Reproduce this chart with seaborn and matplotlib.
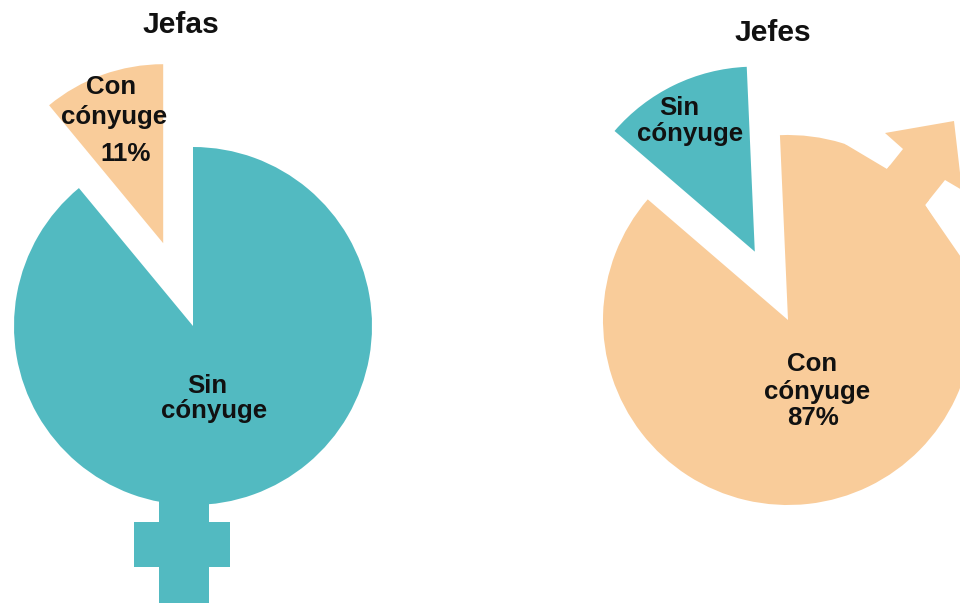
import seaborn as sns
import matplotlib.pyplot as plt
from matplotlib.patches import Polygon, Rectangle

sns.set_theme(style="white")
plt.rcParams['font.family'] = ['Liberation Sans', 'DejaVu Sans']

# Porcentajes
jefas_vals = [89, 11]
jefes_vals = [87, 13]
teal, peach = '#52BAC1', '#F9CC9A'
W, H = 960, 603

fig = plt.figure(figsize=(9.6, 6.03), dpi=100)
ax = fig.add_axes([0, 0, 1, 1])

# explode va en unidades de datos (pixeles aqui)
ax.pie(jefas_vals, colors=[teal, peach], explode=[0, 88], startangle=90,
       counterclock=False, radius=179, center=(193, H - 326),
       wedgeprops={'linewidth': 0})
ax.pie(jefes_vals, colors=[peach, teal], explode=[0, 76], startangle=92.5,
       counterclock=False, radius=185, center=(788, H - 320),
       wedgeprops={'linewidth': 0})

# cruz del simbolo femenino
ax.add_patch(Rectangle((159, 0), 50, H - 500, color=teal, lw=0))
ax.add_patch(Rectangle((134, H - 567), 96, 45, color=teal, lw=0))

def poligono(puntos, color):
    ax.add_patch(Polygon([(x, H - y) for x, y in puntos], color=color, lw=0, zorder=3))

# muescas blancas junto a la flecha
poligono([(845, 144), (887, 169), (903, 149), (880, 130), (845, 125)], 'white')
poligono([(925, 205), (945, 180), (965, 193), (965, 263)], 'white')

# flecha del simbolo masculino
poligono([(885, 133), (954, 121), (962, 190), (945, 180), (925, 205),
          (942, 232), (887, 169), (903, 149)], peach)

ax.set_xlim(0, W)
ax.set_ylim(0, H)
ax.set_aspect('equal')
ax.axis('off')

def etiqueta(x, y, s, size=18.6):
    ax.text(x, H - y, s, ha='center', va='center', fontsize=size,
            fontweight='bold', color='#111111', linespacing=1.0, zorder=5)

etiqueta(181, 25, 'Jefas', 21.6)
etiqueta(773, 33, 'Jefes', 21.6)
etiqueta(111, 87, 'Con')
etiqueta(114, 117, 'cónyuge')
etiqueta(126, 154, '11%')
etiqueta(207, 386, 'Sin')
etiqueta(214, 411, 'cónyuge')
etiqueta(679, 108, 'Sin')
etiqueta(690, 134, 'cónyuge')
etiqueta(812, 364, 'Con')
etiqueta(817, 392, 'cónyuge')
etiqueta(813, 418, '87%')

fig.savefig('out.png', dpi=100)
